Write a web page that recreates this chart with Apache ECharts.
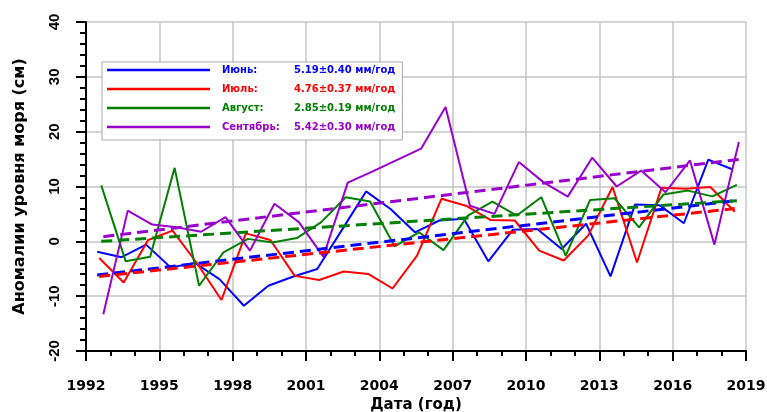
<!DOCTYPE html>
<html>
<head>
<meta charset="utf-8">
<script src="https://cdn.jsdelivr.net/npm/echarts@6/dist/echarts.min.js"></script>
<style>
  html, body { margin: 0; padding: 0; background: #ffffff; }
  #chart { width: 767px; height: 412px; }
</style>
</head>
<body>
<div id="chart"></div>
<script>
// Years of observation (one value per month per year)
const years = [1992, 1993, 1994, 1995, 1996, 1997, 1998, 1999, 2000, 2001, 2002, 2003, 2004, 2005,
               2006, 2007, 2008, 2009, 2010, 2011, 2012, 2013, 2014, 2015, 2016, 2017, 2018];

// Monthly mean sea level anomalies, cm
const june = [-1.9, -2.9, -0.6, -4.75, -3.95, -6.9, -11.75, -8.1, -6.45, -5.05, 2.0, 9.1, 5.9, 1.65,
              3.8, 4.1, -3.65, 2.1, 2.25, -1.4, 3.2, -6.4, 6.7, 6.6, 3.3, 14.9, 13.1];
const july = [-3.05, -7.5, 0.25, 1.95, -4.0, -10.7, 1.45, 0.25, -6.3, -7.05, -5.5, -5.95, -8.6, -2.6,
              7.75, 6.5, 3.9, 3.8, -1.7, -3.5, 1.05, 9.9, -3.85, 9.75, 9.6, 9.9, 5.4];
const august = [10.2, -3.65, -2.8, 13.4, -8.1, -2.0, 0.45, -0.2, 0.6, 3.5, 8.05, 7.25, -0.9, 1.65,
                -1.6, 4.7, 7.25, 4.7, 8.05, -2.6, 7.55, 7.85, 2.55, 8.55, 9.25, 8.2, 10.3];
const september = [-13.3, 5.6, 3.05, 2.55, 1.75, 4.4, -1.7, 6.85, 3.5, -2.8, 10.7, 12.7, 14.8, 16.9,
                   24.5, 6.5, 5.0, 14.45, 10.8, 8.15, 15.25, 10.0, 12.9, 8.95, 14.75, -0.6, 18.1];

const monthNames = ['Июнь', 'Июль', 'Август', 'Сентябрь'];
const monthNumbers = [6, 7, 8, 9];
// Linear trend rates, mm/year
const trendRates = ['5.19±0.40', '4.76±0.37', '2.85±0.19', '5.42±0.30'];
// Trend value at the first year, cm
const trendStart = [-6.15, -6.4, 0.0, 0.85];

const xTicks = [1992, 1995, 1998, 2001, 2004, 2007, 2010, 2013, 2016, 2019];
const yTicks = [-20, -10, 0, 10, 20, 30, 40];

const colors = ['#0000ff', '#ff0000', '#008000', '#9900cc'];
const monthly = [june, july, august, september];

// Each month is placed at its mid-point within the year
function monthPos(year, month) { return year + (month - 0.5) / 12; }

const series = [];
monthly.forEach(function (vals, i) {
  series.push({
    name: monthNames[i],
    type: 'line',
    color: colors[i],
    showSymbol: false,
    symbol: 'none',
    lineStyle: { width: 2, color: colors[i] },
    data: years.map(function (y, k) { return [monthPos(y, monthNumbers[i]), vals[k]]; }),
    z: 3
  });
});
monthly.forEach(function (vals, i) {
  const rate = parseFloat(trendRates[i]) / 10; // cm per year
  const x0 = years[0], x1 = years[years.length - 1];
  series.push({
    name: monthNames[i] + ' тренд',
    type: 'line',
    color: colors[i],
    symbol: 'none',
    lineStyle: { width: 3, color: colors[i], type: [11, 6] },
    data: [
      [monthPos(x0, monthNumbers[i]), trendStart[i]],
      [monthPos(x1, monthNumbers[i]), trendStart[i] + rate * (x1 - x0)]
    ],
    z: 4
  });
});

const boldFont = 'DejaVu Sans';
const labelFont = 'Liberation Sans';

const chart = echarts.init(document.getElementById('chart'), null, { renderer: 'canvas' });
chart.setOption({
  animation: false,
  backgroundColor: '#ffffff',
  grid: { left: 86, right: 21, top: 22, bottom: 61, outerBoundsMode: 'none', containLabel: false },
  xAxis: {
    type: 'value',
    min: xTicks[0],
    max: xTicks[xTicks.length - 1],
    interval: 3,
    name: 'Дата (год)',
    nameLocation: 'middle',
    nameGap: 45,
    nameTextStyle: { fontFamily: boldFont, fontWeight: 'bold', fontSize: 15, color: '#000' },
    axisLine: { show: true, onZero: false, lineStyle: { color: '#000', width: 2 } },
    axisTick: { show: true, inside: false, length: 10, lineStyle: { color: '#000', width: 2 } },
    minorTick: { show: true, splitNumber: 3, length: 5, lineStyle: { color: '#000', width: 2 } },
    axisLabel: {
      margin: 28, fontFamily: boldFont, fontWeight: 'bold', fontSize: 14, color: '#000',
      formatter: function (v) { return String(v); }
    },
    splitLine: { show: true, lineStyle: { color: '#c4c4c4', width: 1.5 } }
  },
  yAxis: {
    type: 'value',
    min: yTicks[0],
    max: yTicks[yTicks.length - 1],
    interval: 10,
    name: 'Аномалии уровня моря (см)',
    nameLocation: 'middle',
    nameGap: 58,
    nameTextStyle: { fontFamily: boldFont, fontWeight: 'bold', fontSize: 16, color: '#000' },
    axisLine: { show: true, onZero: false, lineStyle: { color: '#000', width: 2 } },
    axisTick: { show: true, inside: false, length: 10, lineStyle: { color: '#000', width: 2 } },
    minorTick: { show: true, splitNumber: 5, length: 6, lineStyle: { color: '#000', width: 2 } },
    axisLabel: {
      rotate: 90, margin: 31, align: 'center', verticalAlign: 'middle',
      fontFamily: labelFont, fontWeight: 'bold', fontSize: 15, color: '#000'
    },
    splitLine: { show: true, lineStyle: { color: '#c4c4c4', width: 1.5 } }
  },
  legend: {
    show: true,
    orient: 'vertical',
    left: 102,
    top: 62,
    padding: [3, 7, 8, 5],
    itemGap: 9,
    itemWidth: 103,
    itemHeight: 2.5,
    selectedMode: false,
    backgroundColor: '#ffffff',
    borderColor: '#a8a8a8',
    borderWidth: 1,
    data: monthNames.map(function (n, i) {
      return { name: n, icon: 'rect', textStyle: { color: colors[i] } };
    }),
    formatter: function (name) {
      const i = monthNames.indexOf(name);
      return '{a|' + name + ':}{b|' + trendRates[i] + ' мм/год}';
    },
    textStyle: {
      fontFamily: boldFont, fontWeight: 'bold', fontSize: 10,
      rich: {
        a: { fontFamily: boldFont, fontWeight: 'bold', fontSize: 10, width: 72, padding: [0, 0, 0, 7] },
        b: { fontFamily: boldFont, fontWeight: 'bold', fontSize: 10 }
      }
    }
  },
  series: series
});
</script>
</body>
</html>
